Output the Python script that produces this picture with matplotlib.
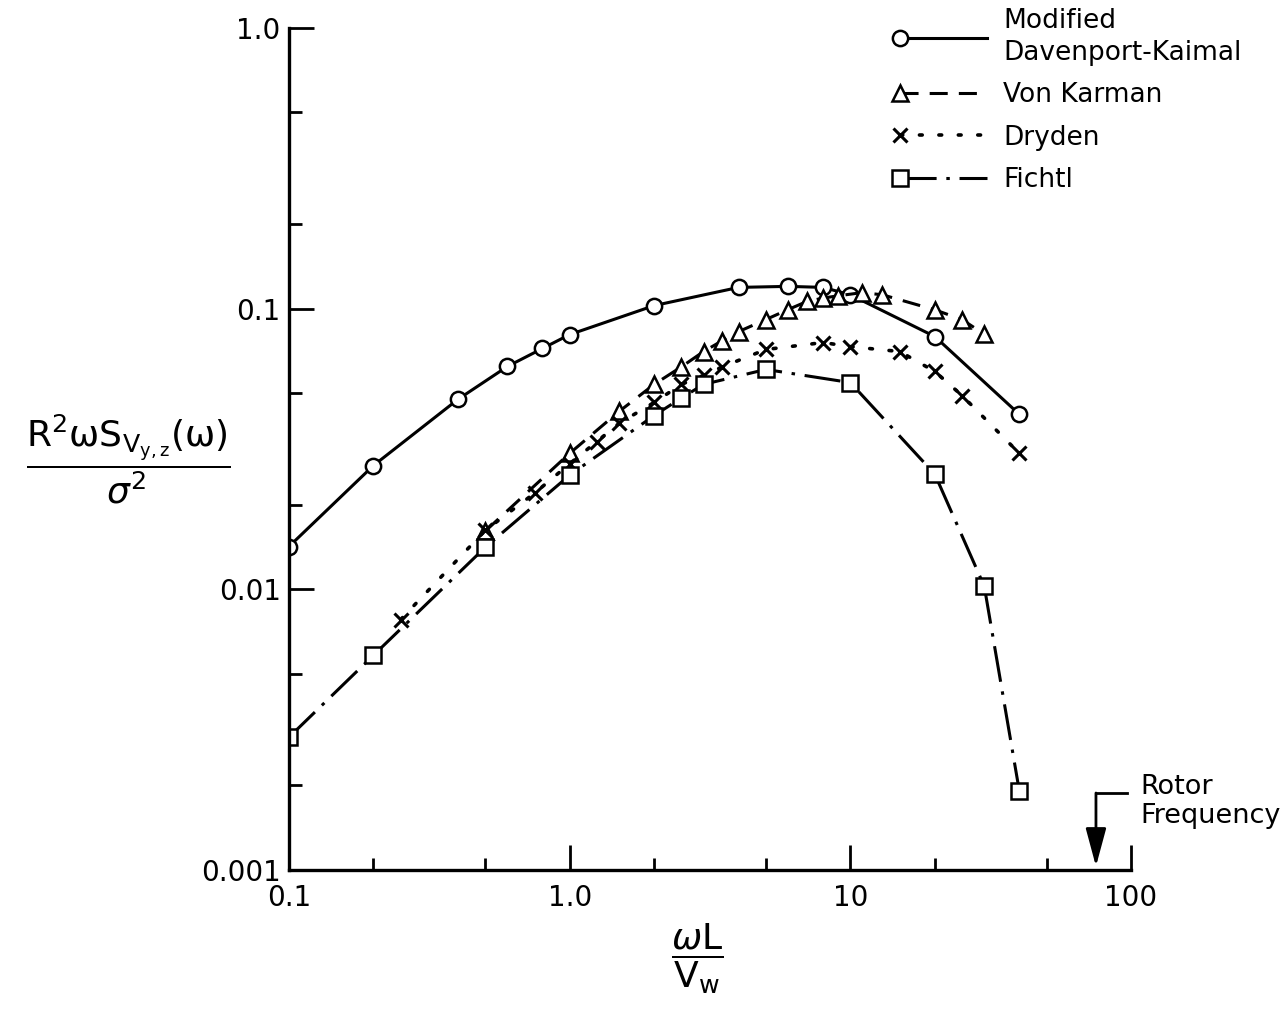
import matplotlib
matplotlib.use("Agg")
import matplotlib.pyplot as plt
from matplotlib.legend_handler import HandlerLine2D
from matplotlib.ticker import LogLocator, NullFormatter
import numpy as np

# --- data ---
dk_x = [0.1, 0.2, 0.4, 0.6, 0.8, 1.0, 2.0, 4.0, 6.0, 8.0, 10.0, 20.0, 40.0]
dk_y = [0.0142, 0.0276, 0.0475, 0.0622, 0.0721, 0.0808, 0.1025, 0.119, 0.120, 0.119, 0.112, 0.0795, 0.042]

vk_x = [0.5, 1.0, 1.5, 2.0, 2.5, 3.0, 3.5, 4.0, 5.0, 6.0, 7.0, 8.0, 9.0, 11.0, 13.0, 20.0, 25.0, 30.0]
vk_y = [0.0161, 0.0305, 0.043, 0.0537, 0.062, 0.0703, 0.0769, 0.0828, 0.0914, 0.0992, 0.106, 0.109,
        0.111, 0.114, 0.112, 0.099, 0.0914, 0.081]

dry_x = [0.25, 0.5, 0.75, 1.0, 1.25, 1.5, 2.0, 2.5, 3.0, 3.5, 5.0, 8.0, 10.0, 15.0, 20.0, 25.0, 40.0]
dry_y = [0.0078, 0.0162, 0.022, 0.028, 0.0336, 0.039, 0.0463, 0.0537, 0.0578, 0.062, 0.0715, 0.0757,
         0.0732, 0.0703, 0.0597, 0.049, 0.0305]

fi_x = [0.1, 0.2, 0.5, 1.0, 2.0, 2.5, 3.0, 5.0, 10.0, 20.0, 30.0, 40.0]
fi_y = [0.00297, 0.00582, 0.0141, 0.0255, 0.0416, 0.048, 0.0537, 0.0607, 0.0545, 0.0257, 0.01025, 0.00191]

rotor_freq = 75.0

xticks = [0.1, 1.0, 10.0, 100.0]
xlabels = ["0.1", "1.0", "10", "100"]
yticks = [0.001, 0.01, 0.1, 1.0]
ylabels = ["0.001", "0.01", "0.1", "1.0"]

plt.rcParams["font.family"] = ["DejaVu Sans"]
plt.rcParams["mathtext.fontset"] = "dejavusans"
plt.rcParams["lines.scale_dashes"] = False


class LeftMarker(HandlerLine2D):
    # marker at the left end of the sample line, like the original key
    def create_artists(self, legend, orig_handle, xdescent, ydescent, width, height, fontsize, trans):
        arts = super().create_artists(legend, orig_handle, xdescent, ydescent, width, height, fontsize, trans)
        for a in arts:
            a.set_markevery([0])
        return arts


fig = plt.figure(figsize=(12.86, 10.15), dpi=100)
ax = fig.add_axes([0.2247, 0.1429, 0.6548, 0.8296])

mk = dict(color="k", mfc="white", mec="k", ms=11, mew=1.8, lw=2.2)
l1, = ax.plot(dk_x, dk_y, marker="o", ls="-", label="Modified\nDavenport-Kaimal", **mk)
l2, = ax.plot(vk_x, vk_y, marker="^", dashes=(13, 8), label="Von Karman", **mk)
l3, = ax.plot(dry_x, dry_y, marker="x", dashes=(2, 12), label="Dryden",
              color="k", ms=10, mew=2.2, lw=2.6, dash_capstyle="round")
l4, = ax.plot(fi_x, fi_y, marker="s", dashes=(26, 7, 2.5, 7), label="Fichtl", **mk)

ax.set_xscale("log")
ax.set_yscale("log")
ax.set_xlim(0.1, 100)
ax.set_ylim(0.001, 1.0)

ax.spines["top"].set_visible(False)
ax.spines["right"].set_visible(False)
for s in ("left", "bottom"):
    ax.spines[s].set_linewidth(2.4)

ax.set_xticks(xticks, xlabels)
ax.set_yticks(yticks, ylabels)
ax.xaxis.set_minor_locator(LogLocator(base=10, subs=[2.0, 5.0]))
ax.yaxis.set_minor_locator(LogLocator(base=10, subs=[2.0, 5.0]))
ax.xaxis.set_minor_formatter(NullFormatter())
ax.yaxis.set_minor_formatter(NullFormatter())
ax.tick_params(which="major", direction="in", length=18, width=2, labelsize=20)
ax.tick_params(which="minor", direction="in", length=9, width=2)
ax.tick_params(axis="x", which="major", pad=10)
ax.tick_params(axis="y", which="major", pad=6)

# rotor frequency marker
ax.annotate("", xy=(rotor_freq, 0.00103), xytext=(rotor_freq, 0.00188),
            arrowprops=dict(arrowstyle="-|>,head_length=1.3,head_width=0.35",
                            color="k", lw=2, mutation_scale=18, shrinkA=0, shrinkB=0),
            annotation_clip=False)
ax.plot([rotor_freq, 97], [0.00188, 0.00188], color="k", lw=2, clip_on=False)
ax.text(108, 0.00176, "Rotor\nFrequency", fontsize=19.5, ha="left", va="center",
        linespacing=1.15)

fig.text(0.0995, 0.547, r"$\dfrac{\mathregular{R^2\omega S_{V_{y,z}}(\omega)}}{\sigma^2}$",
         fontsize=26, ha="center", va="center")
fig.text(0.542, 0.055, r"$\dfrac{\omega \mathregular{L}}{\mathregular{V_w}}$",
         fontsize=26, ha="center", va="center")

leg = ax.legend(handles=[l1, l2, l3, l4], loc="upper left",
                bbox_to_anchor=(900 / 1286, 1 - 8 / 1015), bbox_transform=fig.transFigure,
                frameon=False, fontsize=19, handlelength=3.3, handletextpad=0.6,
                labelspacing=0.62, borderpad=0, borderaxespad=0, numpoints=1,
                handler_map={plt.Line2D: LeftMarker()})
leg.get_texts()[0].set_linespacing(1.3)

fig.savefig("out.png", dpi=100)
